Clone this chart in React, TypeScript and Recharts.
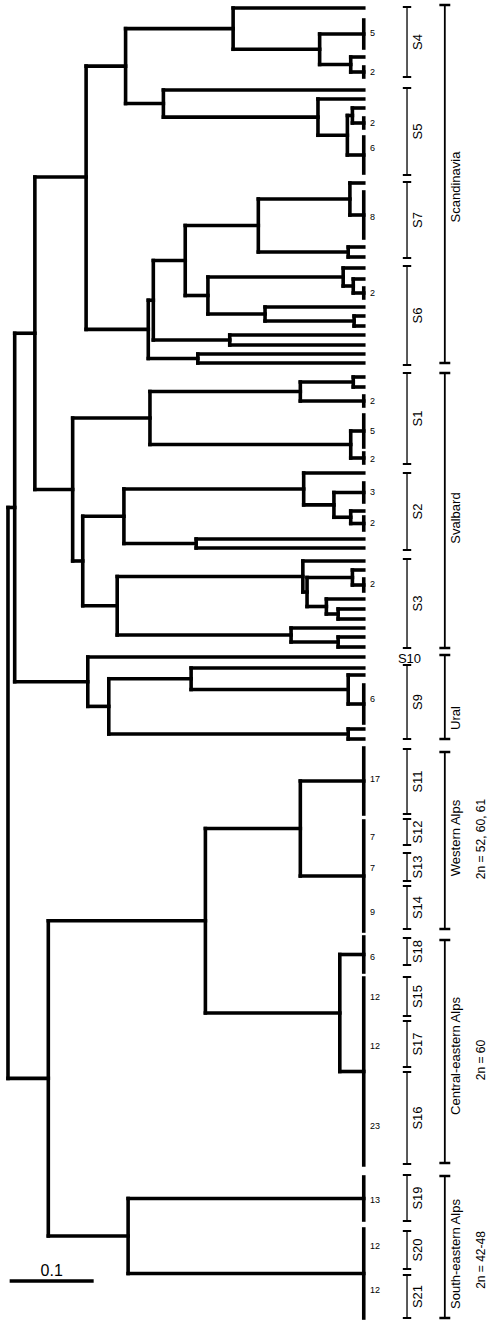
import React from 'react';
import { ScatterChart, Scatter, XAxis, YAxis, ReferenceLine, ReferenceDot } from 'recharts';

// tips: [id, top, bottom] on the vertical order axis; single samples have top === bottom,
// collapsed groups of identical genotypes are drawn as a bar from top to bottom
const tips: [string, number, number][] = [
  ['a1', 8, 8], ['g5a', 20, 48], ['a2', 57, 57], ['g2a', 67, 77],
  ['a3', 90, 90], ['a4', 99, 99], ['a5', 108, 108], ['g2b', 118, 128], ['g6a', 137, 173],
  ['a6', 183, 183], ['g8', 192, 238], ['a7', 247, 247], ['a8', 257, 257],
  ['a9', 268, 268], ['a10', 279, 279], ['g2c', 288, 298], ['a11', 307, 307], ['a12', 316, 316],
  ['a13', 326, 326], ['a14', 335, 335], ['a15', 345, 345], ['a16', 354, 354], ['a17', 363, 363],
  ['a18', 377, 377], ['a19', 387, 387], ['g2d', 396, 406], ['g5b', 415, 447], ['g2e', 453, 463],
  ['a20', 473, 473], ['g3', 483, 502], ['a21', 511, 511], ['g2f', 517, 530], ['a22', 539, 539], ['a23', 548, 548],
  ['a24', 561, 561], ['a25', 570, 570], ['g2g', 579, 591], ['a26', 599, 599], ['a27', 609, 609],
  ['a28', 619, 619], ['a29', 628, 628], ['a30', 637, 637], ['a31', 647, 647],
  ['a32', 657, 657], ['a33', 668, 668], ['a34', 675, 675], ['g6b', 685, 723], ['a35', 729, 729], ['a36', 739, 739],
  ['g17', 748, 814], ['g23', 821, 931], ['g6c', 937, 972], ['g47', 978, 1165],
  ['g13', 1177, 1220], ['g24', 1229, 1318],
];

// internal nodes, children before parents: [id, distance from root, children, drawn y if not centred]
const nodes: [string, number, string[], number?][] = [
  ['n1', 0.408, ['a2', 'g2a']],
  ['n2', 0.371, ['g5a', 'n1']],
  ['n3', 0.268, ['a1', 'n2']],
  ['n4', 0.41, ['a5', 'g2b']],
  ['n5', 0.404, ['n4', 'g6a']],
  ['n6', 0.369, ['a4', 'n5']],
  ['n7', 0.185, ['a3', 'n6']],
  ['n8', 0.14, ['n3', 'n7']],
  ['n9', 0.407, ['a6', 'g8']],
  ['n10', 0.405, ['a7', 'a8']],
  ['n11', 0.298, ['n9', 'n10']],
  ['n12', 0.411, ['a10', 'g2c']],
  ['n13', 0.399, ['a9', 'n12']],
  ['n14', 0.412, ['a12', 'a13']],
  ['n15', 0.306, ['a11', 'n14']],
  ['n16', 0.238, ['n13', 'n15']],
  ['n17', 0.211, ['n11', 'n16']],
  ['n18', 0.264, ['a14', 'a15']],
  ['n19', 0.173, ['n17', 'n18']],
  ['n20', 0.226, ['a16', 'a17']],
  ['n21', 0.167, ['n19', 'n20']],
  ['n22', 0.093, ['n8', 'n21'], 177],
  ['n23', 0.411, ['a18', 'a19']],
  ['n24', 0.348, ['n23', 'g2d']],
  ['n25', 0.408, ['g5b', 'g2e']],
  ['n26', 0.169, ['n24', 'n25']],
  ['n27', 0.408, ['a21', 'g2f']],
  ['n28', 0.388, ['g3', 'n27']],
  ['n29', 0.352, ['a20', 'n28']],
  ['n30', 0.224, ['a22', 'a23']],
  ['n31', 0.138, ['n29', 'n30']],
  ['n32', 0.41, ['a25', 'g2g']],
  ['n33', 0.393, ['a27', 'a28']],
  ['n34', 0.379, ['a26', 'n33']],
  ['n35', 0.356, ['n32', 'n34']],
  ['n36', 0.351, ['a24', 'n35']],
  ['n37', 0.393, ['a30', 'a31']],
  ['n38', 0.337, ['a29', 'n37']],
  ['n39', 0.13, ['n36', 'n38']],
  ['n40', 0.089, ['n31', 'n39']],
  ['n41', 0.077, ['n26', 'n40']],
  ['n42', 0.032, ['n22', 'n41']],
  ['n43', 0.405, ['a34', 'g6b']],
  ['n44', 0.218, ['a33', 'n43']],
  ['n45', 0.405, ['a35', 'a36']],
  ['n46', 0.12, ['n44', 'n45']],
  ['n47', 0.095, ['a32', 'n46']],
  ['n48', 0.008, ['n42', 'n47']],
  ['n49', 0.348, ['g17', 'g23']],
  ['n50', 0.395, ['g6c', 'g47']],
  ['n51', 0.235, ['n49', 'n50']],
  ['n52', 0.143, ['g13', 'g24']],
  ['n53', 0.048, ['n51', 'n52']],
  ['root', 0, ['n48', 'n53']],
];

// number of individuals next to collapsed tips: [position, text]
const countLabels: [number, string][] = [
  [33, '5'], [72, '2'], [123, '2'], [148, '6'], [217, '8'], [293, '2'],
  [401, '2'], [431, '5'], [459, '2'], [492, '3'], [523, '2'], [584, '2'], [699, '6'],
  [779, '17'], [837, '7'], [868, '7'], [912, '9'], [957, '6'],
  [997, '12'], [1046, '12'], [1126, '23'], [1200, '13'], [1246, '12'], [1290, '12'],
];

// subgroup brackets: [name, top, bottom]
const subgroups: [string, number, number][] = [
  ['S4', 7, 77], ['S5', 88, 175], ['S7', 182, 258], ['S6', 266, 365],
  ['S1', 373, 464], ['S2', 473, 550], ['S3', 559, 648], ['S10', 658, 658], ['S9', 665, 739],
  ['S11', 749, 814], ['S12', 819, 845], ['S13', 853, 881], ['S14', 886, 929],
  ['S18', 938, 965], ['S15', 977, 1016], ['S17', 1021, 1067], ['S16', 1072, 1164],
  ['S19', 1175, 1221], ['S20', 1231, 1269], ['S21', 1275, 1318],
];

// regional brackets: [name, top, bottom, label position]
const regions: [string, number, number, number][] = [
  ['Scandinavia', 5, 363, 187],
  ['Svalbard', 373, 648, 518],
  ['Ural', 655, 739, 718],
  ['Western Alps', 752, 929, 838],
  ['Central-eastern Alps', 940, 1163, 1056],
  ['South-eastern Alps', 1176, 1318, 1254],
];

const ploidy: [string, number][] = [
  ['2n = 52, 60, 61', 839],
  ['2n = 60', 1060],
  ['2n = 42-48', 1260],
];

const SCALE_BAR = 0.1;

const FONT = '"Liberation Sans", Arial, Helvetica, sans-serif';
const X_DOMAIN: [number, number] = [-0.0095, 0.5714];
const TIP = 0.4235;
const COUNT_X = 0.431;
const SUB_X = 0.475;
const SUB_LABEL_X = 0.487;
const REGION_X = 0.52;
const REGION_LABEL_X = 0.532;
const PLOIDY_X = 0.563;
const LINE_W = 3.6;

type Seg = { x1: number; y1: number; x2: number; y2: number };

const yOf: Record<string, number> = {};
const xOf: Record<string, number> = {};
const treeSegs: Seg[] = [];

tips.forEach(([id, top, bottom]) => {
  yOf[id] = (top + bottom) / 2;
  xOf[id] = TIP;
  if (bottom > top) treeSegs.push({ x1: TIP, y1: top, x2: TIP, y2: bottom });
});

nodes.forEach(([id, depth, children, fixedY]) => {
  const ys = children.map((c) => yOf[c]);
  const lo = Math.min(...ys);
  const hi = Math.max(...ys);
  treeSegs.push({ x1: depth, y1: lo, x2: depth, y2: hi });
  children.forEach((c) => treeSegs.push({ x1: depth, y1: yOf[c], x2: xOf[c], y2: yOf[c] }));
  yOf[id] = fixedY ?? (lo + hi) / 2;
  xOf[id] = depth;
});

const tipPoints = tips.map(([id]) => ({ x: TIP, y: yOf[id] }));

const seg = (key: string, s: Seg, width: number, cap: 'square' | 'butt' = 'square') => (
  <ReferenceLine
    key={key}
    segment={[{ x: s.x1, y: s.y1 }, { x: s.x2, y: s.y2 }]}
    stroke="#000"
    strokeWidth={width}
    strokeLinecap={cap}
    ifOverflow="visible"
  />
);

const textAt = (
  key: string,
  x: number,
  y: number,
  value: string,
  fontSize: number,
  angle = 0,
  position: 'center' | 'right' = 'center'
) => (
  <ReferenceDot
    key={key}
    x={x}
    y={y}
    r={0}
    fill="none"
    stroke="none"
    ifOverflow="visible"
    label={{ value, position, angle, fontSize, fontFamily: FONT, fill: '#000', offset: 0 }}
  />
);

const bracket = (key: string, x: number, top: number, bottom: number, half: number, lw: number, tw: number) => [
  seg(key + '-v', { x1: x, y1: top, x2: x, y2: bottom }, lw, 'butt'),
  seg(key + '-t', { x1: x - half, y1: top, x2: x + half, y2: top }, tw, 'butt'),
  seg(key + '-b', { x1: x - half, y1: bottom, x2: x + half, y2: bottom }, tw, 'butt'),
];

const App: React.FC = () => {
  return (
    <div style={{ position: 'absolute', left: 0, top: 0, width: 488, height: 1320, background: '#fff' }}>
      <ScatterChart width={488} height={1320} margin={{ top: 0, right: 0, bottom: 0, left: 0 }}>
        <XAxis type="number" dataKey="x" domain={X_DOMAIN} hide allowDataOverflow />
        <YAxis type="number" dataKey="y" domain={[0, 1320]} reversed hide allowDataOverflow />
        <Scatter data={tipPoints} shape={() => <g />} isAnimationActive={false} />

        {treeSegs.map((s, i) => seg('t' + i, s, LINE_W))}

        {countLabels.map(([pos, text], i) => textAt('c' + i, COUNT_X, pos, text, 9, 0, 'right'))}

        {subgroups.flatMap(([name, top, bottom]) =>
          bottom > top
            ? [
                ...bracket('s' + name, SUB_X, top, bottom, 0.005, 1.3, 2),
                textAt('sl' + name, SUB_LABEL_X, (top + bottom) / 2, name, 13, -90),
              ]
            : [textAt('sl' + name, SUB_X + 0.003, top, name, 13)]
        )}

        {regions.flatMap(([name, top, bottom, labelPos]) => [
          ...bracket('r' + name, REGION_X, top, bottom, 0.0065, 1.8, 2.5),
          textAt('rl' + name, REGION_LABEL_X, labelPos, name, 13, -90),
        ])}

        {ploidy.map(([text, pos]) => textAt('p' + text, PLOIDY_X, pos, text, 12, -90))}

        {seg('scale', { x1: 0.002, y1: 1281, x2: 0.002 + SCALE_BAR, y2: 1281 }, LINE_W, 'butt')}
        {textAt('scale-l', 0.002 + SCALE_BAR / 2, 1270, String(SCALE_BAR), 16)}
      </ScatterChart>
    </div>
  );
};

export default App;
